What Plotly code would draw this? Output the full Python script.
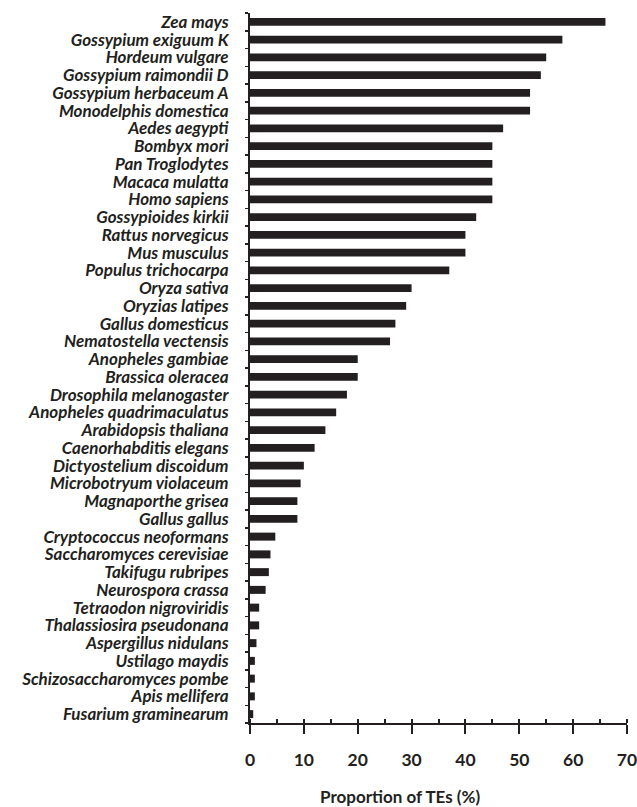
import plotly.graph_objects as go

species = [
    "Zea mays", "Gossypium exiguum K", "Hordeum vulgare", "Gossypium raimondii D",
    "Gossypium herbaceum A", "Monodelphis domestica", "Aedes aegypti", "Bombyx mori",
    "Pan Troglodytes", "Macaca mulatta", "Homo sapiens", "Gossypioides kirkii",
    "Rattus norvegicus", "Mus musculus", "Populus trichocarpa", "Oryza sativa",
    "Oryzias latipes", "Gallus domesticus", "Nematostella vectensis", "Anopheles gambiae",
    "Brassica oleracea", "Drosophila melanogaster", "Anopheles quadrimaculatus",
    "Arabidopsis thaliana", "Caenorhabditis elegans", "Dictyostelium discoidum",
    "Microbotryum violaceum", "Magnaporthe grisea", "Gallus gallus",
    "Cryptococcus neoformans", "Saccharomyces cerevisiae", "Takifugu rubripes",
    "Neurospora crassa", "Tetraodon nigroviridis", "Thalassiosira pseudonana",
    "Aspergillus nidulans", "Ustilago maydis", "Schizosaccharomyces pombe",
    "Apis mellifera", "Fusarium graminearum",
]
te_percent = [
    66, 58, 55, 54, 52, 52, 47, 45, 45, 45, 45, 42, 40, 40, 37, 30, 29, 27, 26, 20,
    20, 18, 16, 14, 12, 10, 9.4, 8.8, 8.8, 4.7, 3.8, 3.5, 2.9, 1.7, 1.7, 1.2, 0.9,
    0.9, 0.9, 0.6,
]
x_ticks = [0, 10, 20, 30, 40, 50, 60, 70]
x_title = "Proportion of TEs (%)"

dark = "#231f20"
font_family = "Lato, 'Open Sans', sans-serif"

labels = [f"<i>{s}</i>" for s in species]

fig = go.Figure(
    go.Bar(
        x=te_percent,
        y=labels,
        orientation="h",
        marker=dict(color=dark, line=dict(width=0)),
        hoverinfo="skip",
    )
)

fig.update_layout(
    width=637,
    height=807,
    margin=dict(l=250, r=10, t=13, b=84),
    plot_bgcolor="white",
    paper_bgcolor="white",
    bargap=0.55,
    showlegend=False,
    font=dict(family=font_family, color=dark),
)

fig.update_xaxes(
    range=[0, 70],
    tickmode="array",
    tickvals=x_ticks,
    ticktext=[str(v) for v in x_ticks],
    showgrid=False,
    zeroline=False,
    showline=True,
    linecolor=dark,
    linewidth=2,
    ticks="outside",
    ticklen=9,
    tickwidth=2,
    tickcolor=dark,
    tickfont=dict(family=font_family, size=17.5, color=dark, weight="bold"),
    ticklabelstandoff=11,
    ticklabeloverflow="allow",
    automargin=False,
    minor=dict(dtick=5, ticks="inside", ticklen=4, tickwidth=2, tickcolor=dark, showgrid=False),
)

fig.update_yaxes(
    autorange="reversed",
    type="category",
    tickmode="array",
    tickvals=labels,
    ticktext=labels,
    showgrid=False,
    zeroline=False,
    showline=True,
    linecolor=dark,
    linewidth=2,
    ticks="outside",
    tickson="boundaries",
    ticklen=3,
    tickwidth=1.5,
    tickcolor=dark,
    tickfont=dict(family=font_family, size=17, color=dark, weight="bold"),
    ticklabelstandoff=16,
    automargin=False,
)

fig.add_annotation(
    text=f"<b>{x_title}</b>",
    xref="paper",
    yref="paper",
    x=0.398,
    y=0,
    yshift=-73,
    xanchor="center",
    yanchor="middle",
    showarrow=False,
    font=dict(family=font_family, size=17, color=dark),
)

fig.write_html(
    "out.html",
    config={"displayModeBar": False, "staticPlot": True},
    post_script="document.body.style.margin='0';document.body.style.overflow='hidden';",
)
